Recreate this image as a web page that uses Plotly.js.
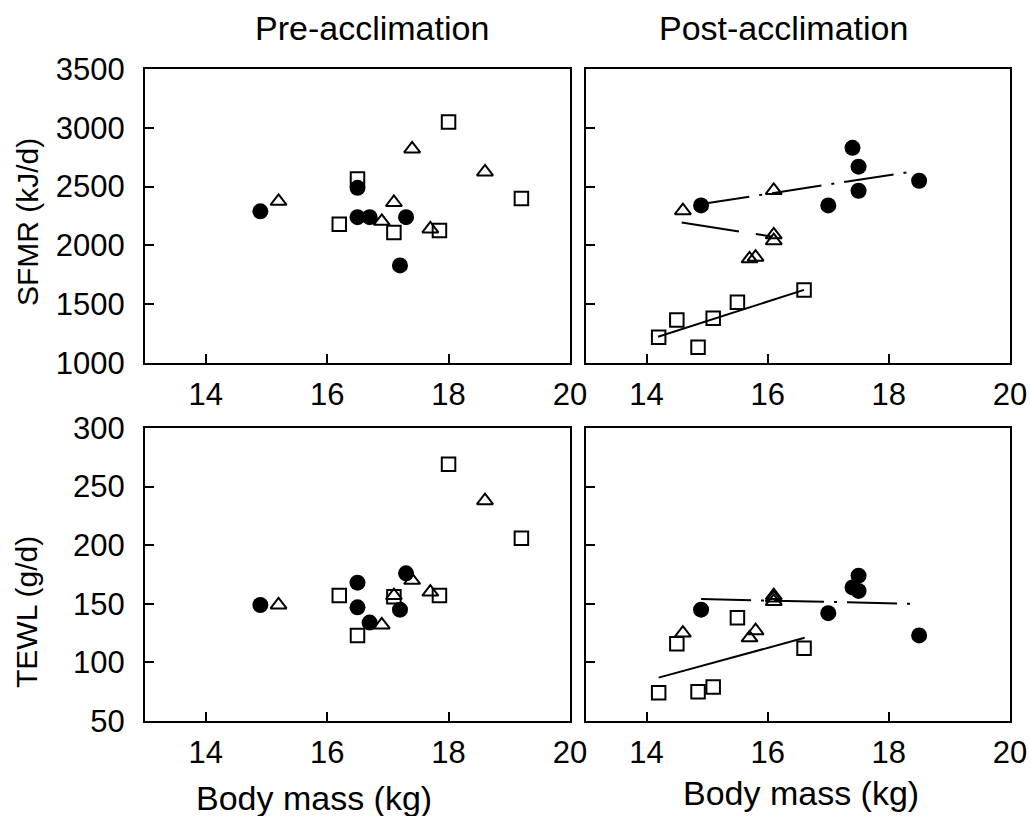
<!DOCTYPE html>
<html>
<head>
<meta charset="utf-8">
<script src="https://cdn.plot.ly/plotly-3.0.1.min.js"></script>
<style>html,body{margin:0;padding:0;background:#fff;}#chart{width:1030px;height:816px;}</style>
</head>
<body>
<div id="chart"></div>
<script>
// ---------- Data ----------
// Pre-acclimation, SFMR (kJ/d)
const preCircleMass   = [14.9, 16.5, 16.5, 16.7, 17.3, 17.2];
const preCircleSFMR   = [2290, 2490, 2240, 2240, 2240, 1830];
const preTriMass      = [15.2, 17.4, 17.1, 16.9, 17.7, 18.6];
const preTriSFMR      = [2375, 2820, 2365, 2205, 2140, 2625];
const preSquareMass   = [18.0, 16.5, 16.2, 17.1, 17.85, 19.2];
const preSquareSFMR   = [3050, 2565, 2180, 2110, 2127, 2400];
// Pre-acclimation, TEWL (g/d)
const preCircleTEWL   = [149, 168, 147, 134, 176, 145];
const preTriTEWL      = [149, 170, 157, 132, 160, 238];
const preSquareTEWL   = [269, 123, 157, 156, 157, 206];

// Post-acclimation, SFMR (kJ/d)
const postCircleMass  = [14.9, 17.0, 17.4, 17.5, 17.5, 18.5];
const postCircleSFMR  = [2340, 2340, 2830, 2670, 2465, 2550];
const postTriMass     = [14.6, 16.1, 16.1, 16.1, 15.7, 15.8];
const postTriSFMR     = [2295, 2468, 2090, 2040, 1886, 1900];
const postSquareMass  = [14.2, 14.5, 14.85, 15.1, 15.5, 16.6];
const postSquareSFMR  = [1219, 1366, 1134, 1381, 1517, 1622];
// Post-acclimation, TEWL (g/d)
const postCircleTEWL  = [145, 142, 164, 174, 161, 123];
const postTriTEWL     = [125, 157, 155, 152, 121, 127];
const postSquareTEWL  = [74, 116, 75, 79, 138, 112];

// Regression line end points
const fitPostSFMRCircleX = [14.88, 18.41], fitPostSFMRCircleY = [2350, 2630];
const fitPostSFMRTriX    = [14.58, 16.06], fitPostSFMRTriY    = [2195, 2076];
const fitPostSFMRSquareX = [14.19, 16.6],  fitPostSFMRSquareY = [1223, 1622];
const fitPostTEWLCircleX = [14.9, 18.42],  fitPostTEWLCircleY = [154, 150];
const fitPostTEWLSquareX = [14.2, 16.61],  fitPostTEWLSquareY = [87, 121];

const xTicks = [14, 16, 18, 20];
const sfmrTicks = [1000, 1500, 2000, 2500, 3000, 3500];
const tewlTicks = [50, 100, 150, 200, 250, 300];

// ---------- Styles ----------
const FONT = 'Liberation Sans, Arial, Helvetica, sans-serif';
const circleM = {symbol: 'circle', size: 16, color: '#000', line: {width: 0}};
const triM = {symbol: 'triangle-up-open', size: 14, color: '#000', line: {width: 2, color: '#000'}};
const sqM = {symbol: 'square-open', size: 13.5, color: '#000', line: {width: 2, color: '#000'}};
const dashDot = '50px,10px,3px,10px';

function pts(x, y, m, xa, ya) {
  return {type: 'scatter', mode: 'markers', x: x, y: y, marker: m, xaxis: xa, yaxis: ya, hoverinfo: 'x+y', cliponaxis: false};
}
function line(x, y, dash, xa, ya) {
  return {type: 'scatter', mode: 'lines', x: x, y: y, line: {color: '#000', width: 2, dash: dash}, xaxis: xa, yaxis: ya, hoverinfo: 'skip'};
}

const data = [
  // top-left
  pts(preSquareMass, preSquareSFMR, sqM, 'x', 'y'),
  pts(preTriMass, preTriSFMR, triM, 'x', 'y'),
  pts(preCircleMass, preCircleSFMR, circleM, 'x', 'y'),
  // top-right
  line(fitPostSFMRSquareX, fitPostSFMRSquareY, 'solid', 'x2', 'y2'),
  line(fitPostSFMRTriX, fitPostSFMRTriY, '58px,17px', 'x2', 'y2'),
  line(fitPostSFMRCircleX, fitPostSFMRCircleY, dashDot, 'x2', 'y2'),
  pts(postSquareMass, postSquareSFMR, sqM, 'x2', 'y2'),
  pts(postTriMass, postTriSFMR, triM, 'x2', 'y2'),
  pts(postCircleMass, postCircleSFMR, circleM, 'x2', 'y2'),
  // bottom-left
  pts(preSquareMass, preSquareTEWL, sqM, 'x3', 'y3'),
  pts(preTriMass, preTriTEWL, triM, 'x3', 'y3'),
  pts(preCircleMass, preCircleTEWL, circleM, 'x3', 'y3'),
  // bottom-right
  line(fitPostTEWLSquareX, fitPostTEWLSquareY, 'solid', 'x4', 'y4'),
  line(fitPostTEWLCircleX, fitPostTEWLCircleY, dashDot, 'x4', 'y4'),
  pts(postSquareMass, postSquareTEWL, sqM, 'x4', 'y4'),
  pts(postTriMass, postTriTEWL, triM, 'x4', 'y4'),
  pts(postCircleMass, postCircleTEWL, circleM, 'x4', 'y4')
];

const tickFont = {family: FONT, size: 31, color: '#000'};
function xax(domain, anchor) {
  return {domain: domain, anchor: anchor, range: [13, 20], tickvals: xTicks, ticktext: xTicks.map(String),
    showgrid: false, zeroline: false, showline: true, mirror: true, linecolor: '#000', linewidth: 2,
    ticks: 'inside', ticklen: 9, tickwidth: 2, tickcolor: '#000', tickfont: tickFont, ticklabelstandoff: 3};
}
function yax(domain, anchor, range, tv, showLabels) {
  return {domain: domain, anchor: anchor, range: range, tickvals: tv, ticktext: tv.map(String),
    showgrid: false, zeroline: false, showline: true, mirror: true, linecolor: '#000', linewidth: 2,
    ticks: 'inside', ticklen: 9, tickwidth: 2, tickcolor: '#000', tickfont: tickFont,
    showticklabels: showLabels, ticklabelstandoff: 12};
}

const colLeft = [0, 0.4913], colRight = [0.5098, 1];
const rowTop = [0.549, 1], rowBottom = [0, 0.4494];
const annFont = {family: FONT, size: 34, color: '#000'};
const yTitleFont = {family: FONT, size: 30, color: '#000'};

const layout = {
  width: 1030, height: 816,
  margin: {l: 145, r: 20, t: 69, b: 95},
  paper_bgcolor: '#fff', plot_bgcolor: '#fff',
  showlegend: false,
  xaxis: xax(colLeft, 'y'),
  yaxis: yax(rowTop, 'x', [1000, 3500], sfmrTicks, true),
  xaxis2: xax(colRight, 'y2'),
  yaxis2: yax(rowTop, 'x2', [1000, 3500], sfmrTicks, false),
  xaxis3: xax(colLeft, 'y3'),
  yaxis3: yax(rowBottom, 'x3', [50, 300], tewlTicks, true),
  xaxis4: xax(colRight, 'y4'),
  yaxis4: yax(rowBottom, 'x4', [50, 300], tewlTicks, false),
  annotations: [
    {text: 'Pre-acclimation', xref: 'paper', yref: 'paper', x: 0.2624, y: 1.063, xanchor: 'center', yanchor: 'middle', showarrow: false, font: annFont},
    {text: 'Post-acclimation', xref: 'paper', yref: 'paper', x: 0.7376, y: 1.063, xanchor: 'center', yanchor: 'middle', showarrow: false, font: annFont},
    {text: 'Body mass (kg)', xref: 'paper', yref: 'paper', x: 0.1954, y: -0.118, xanchor: 'center', yanchor: 'middle', showarrow: false, font: annFont},
    {text: 'Body mass (kg)', xref: 'paper', yref: 'paper', x: 0.7584, y: -0.110, xanchor: 'center', yanchor: 'middle', showarrow: false, font: annFont},
    {text: 'SFMR (kJ/d)', xref: 'paper', yref: 'paper', x: -0.1364, y: 0.7653, xanchor: 'center', yanchor: 'middle', textangle: -90, showarrow: false, font: yTitleFont},
    {text: 'TEWL (g/d)', xref: 'paper', yref: 'paper', x: -0.1364, y: 0.1672, xanchor: 'center', yanchor: 'middle', textangle: -90, showarrow: false, font: yTitleFont}
  ]
};

Plotly.newPlot('chart', data, layout, {staticPlot: true, displayModeBar: false});
</script>
</body>
</html>
